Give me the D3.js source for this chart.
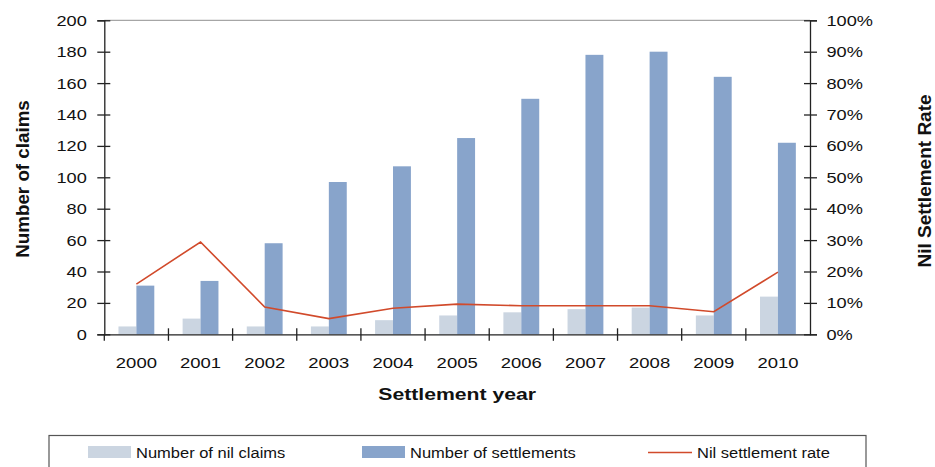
<!DOCTYPE html>
<html>
<head>
<meta charset="utf-8">
<script src="https://cdn.jsdelivr.net/npm/d3@7/dist/d3.min.js"></script>
<style>
  html, body { margin: 0; padding: 0; background: #fff; }
  svg { display: block; font-family: "Liberation Sans", Arial, sans-serif; }
</style>
</head>
<body>
<svg id="chart" width="935" height="467"></svg>
<script>
// Settlement years and counts
const years = ["2000","2001","2002","2003","2004","2005","2006","2007","2008","2009","2010"];
const nilClaims = [5, 10, 5, 5, 9, 12, 14, 16, 17, 12, 24];
const settlements = [31, 34, 58, 97, 107, 125, 150, 178, 180, 164, 122];
const nilRate = [0.16, 0.294, 0.087, 0.05, 0.083, 0.096, 0.091, 0.091, 0.091, 0.072, 0.198];

const leftTicks = [0, 20, 40, 60, 80, 100, 120, 140, 160, 180, 200];
const rightTicks = [0, 0.1, 0.2, 0.3, 0.4, 0.5, 0.6, 0.7, 0.8, 0.9, 1.0];

const seriesNames = ["Number of nil claims", "Number of settlements", "Nil settlement rate"];
const colNil = "#cbd5e1";
const colSettle = "#88a4cb";
const colRate = "#d14a2b";
const axisCol = "#222";
const STRETCH = 1.3;

const svg = d3.select("#chart");
const plot = { left: 104.3, right: 810, top: 20.3, bottom: 334.3 };

const x = d3.scaleBand().domain(years).range([plot.left, plot.right]).padding(0);
const inner = d3.scaleBand().domain(["nil", "settle"]).range([0, x.bandwidth()])
  .paddingInner(0).paddingOuter(0.79);
const y = d3.scaleLinear().domain([0, 200]).range([plot.bottom, plot.top]);
const yR = d3.scaleLinear().domain([0, 1]).range([plot.bottom, plot.top]);

// top border of the plot area
svg.append("line")
  .attr("x1", plot.left).attr("x2", plot.right)
  .attr("y1", plot.top).attr("y2", plot.top)
  .attr("stroke", "#a6a6a6").attr("stroke-width", 1.3);

// bars
const groups = svg.append("g").selectAll("g").data(years).join("g")
  .attr("transform", d => `translate(${x(d)},0)`);
groups.append("rect")
  .attr("x", inner("nil")).attr("width", inner.bandwidth())
  .attr("y", (d, i) => y(nilClaims[i]))
  .attr("height", (d, i) => y(0) - y(nilClaims[i]))
  .attr("fill", colNil);
groups.append("rect")
  .attr("x", inner("settle")).attr("width", inner.bandwidth())
  .attr("y", (d, i) => y(settlements[i]))
  .attr("height", (d, i) => y(0) - y(settlements[i]))
  .attr("fill", colSettle);

// rate line on the secondary axis
const line = d3.line()
  .x((d, i) => x(years[i]) + x.bandwidth() / 2)
  .y(d => yR(d));
svg.append("path").datum(nilRate)
  .attr("d", line).attr("fill", "none")
  .attr("stroke", colRate).attr("stroke-width", 1.6);

function styleAxis(g) {
  g.select(".domain").attr("stroke", axisCol).attr("stroke-width", 1.3);
  g.selectAll(".tick line").attr("stroke", axisCol).attr("stroke-width", 1.3);
  g.selectAll("text").attr("fill", "#111").attr("font-size", 14);
}

// left axis, ticks crossing the axis line
const gL = svg.append("g").attr("transform", `translate(${plot.left},0)`)
  .call(d3.axisLeft(y).tickValues(leftTicks).tickSizeOuter(0).tickSize(7).tickPadding(0));
styleAxis(gL);
gL.selectAll(".tick").append("line").attr("x2", 6).attr("stroke", axisCol).attr("stroke-width", 1.3);
gL.selectAll(".tick text")
  .attr("x", -17.5 / STRETCH).attr("dy", "0.36em")
  .attr("transform", `scale(${STRETCH},1)`);

// right axis
const gR = svg.append("g").attr("transform", `translate(${plot.right},0)`)
  .call(d3.axisRight(yR).tickValues(rightTicks).tickFormat(d3.format(".0%"))
    .tickSizeOuter(0).tickSize(7).tickPadding(0));
styleAxis(gR);
gR.selectAll(".tick").append("line").attr("x2", -6).attr("stroke", axisCol).attr("stroke-width", 1.3);
gR.selectAll(".tick text")
  .attr("x", 16.5 / STRETCH).attr("dy", "0.36em")
  .attr("transform", `scale(${STRETCH},1)`);

// bottom axis: labels at band centres, tick marks on the category boundaries
const gB = svg.append("g").attr("transform", `translate(0,${plot.bottom})`)
  .call(d3.axisBottom(x).tickSize(0).tickSizeOuter(0));
styleAxis(gB);
gB.selectAll(".tick text")
  .attr("x", 0).attr("y", 34).attr("dy", 0)
  .attr("font-size", 15.4)
  .attr("transform", "scale(1.2,1)");
const boundaries = years.map(d => x(d)).slice(1);
gB.selectAll(".bound").data(boundaries).join("line")
  .attr("class", "bound")
  .attr("x1", d => d).attr("x2", d => d)
  .attr("y1", -6).attr("y2", 6.5)
  .attr("stroke", axisCol).attr("stroke-width", 1.3);
gB.append("line").attr("x1", plot.left).attr("x2", plot.left)
  .attr("y1", 0).attr("y2", 6.5).attr("stroke", axisCol).attr("stroke-width", 1.3);

// axis titles
svg.append("text")
  .attr("transform", `translate(${(plot.left + plot.right) / 2},400) scale(1.3,1)`)
  .attr("text-anchor", "middle").attr("font-weight", "bold").attr("font-size", 16.3)
  .attr("fill", "#111").text("Settlement year");
svg.append("text")
  .attr("transform", "translate(29,179) rotate(-90)")
  .attr("text-anchor", "middle").attr("font-weight", "bold").attr("font-size", 18.8)
  .attr("fill", "#111").text("Number of claims");
svg.append("text")
  .attr("transform", "translate(931,181) rotate(-90)")
  .attr("text-anchor", "middle").attr("font-weight", "bold").attr("font-size", 19)
  .attr("fill", "#111").text("Nil Settlement Rate");

// legend
const legend = svg.append("g");
legend.append("rect")
  .attr("x", 49).attr("y", 435.5).attr("width", 817).attr("height", 60)
  .attr("fill", "#fff").attr("stroke", "#555").attr("stroke-width", 1.2);
const legItems = [
  { name: seriesNames[0], type: "rect", color: colNil, sx: 88 },
  { name: seriesNames[1], type: "rect", color: colSettle, sx: 362 },
  { name: seriesNames[2], type: "line", color: colRate, sx: 648 }
];
legItems.forEach(it => {
  if (it.type === "rect") {
    legend.append("rect").attr("x", it.sx).attr("y", 446).attr("width", 43).attr("height", 12)
      .attr("fill", it.color);
    legend.append("text")
      .attr("transform", `translate(${it.sx + 48},458) scale(1.1,1)`)
      .attr("font-size", 15).attr("fill", "#111").text(it.name);
  } else {
    legend.append("line").attr("x1", it.sx).attr("x2", it.sx + 44)
      .attr("y1", 452.5).attr("y2", 452.5).attr("stroke", it.color).attr("stroke-width", 1.6);
    legend.append("text")
      .attr("transform", `translate(${it.sx + 49},458) scale(1.1,1)`)
      .attr("font-size", 15).attr("fill", "#111").text(it.name);
  }
});
</script>
</body>
</html>
